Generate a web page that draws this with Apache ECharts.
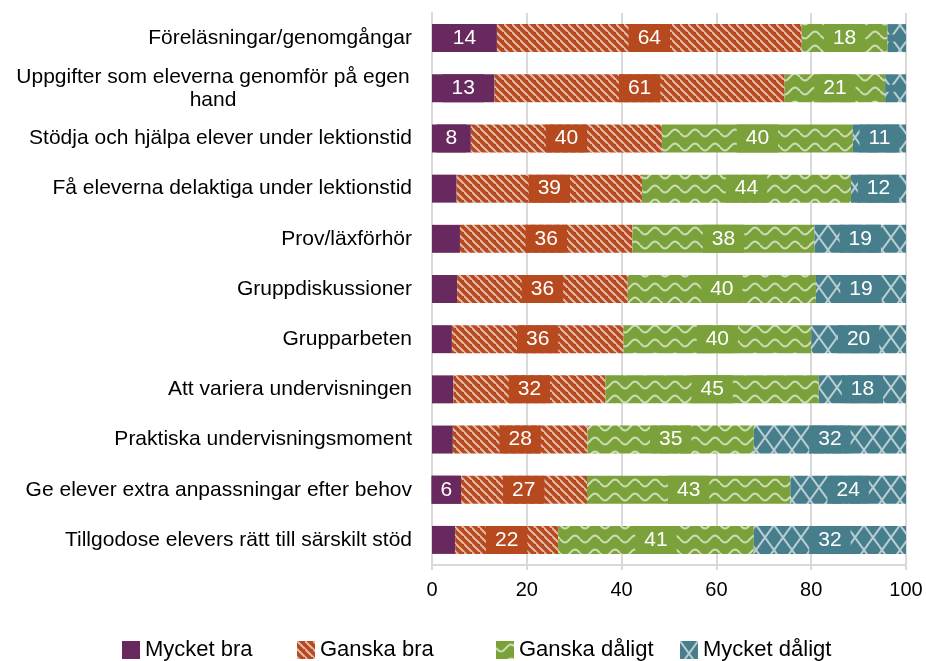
<!DOCTYPE html>
<html>
<head>
<meta charset="utf-8">
<script src="https://cdn.jsdelivr.net/npm/echarts@6/dist/echarts.min.js"></script>
<style>
html, body { margin: 0; padding: 0; background: #fff; }
#chart { width: 926px; height: 661px; }
</style>
</head>
<body>
<div id="chart"></div>
<script>
// categories, top to bottom
const categories = [
  'Föreläsningar/genomgångar',
  'Uppgifter som eleverna genomför på egen\nhand',
  'Stödja och hjälpa elever under lektionstid',
  'Få eleverna delaktiga under lektionstid',
  'Prov/läxförhör',
  'Gruppdiskussioner',
  'Grupparbeten',
  'Att variera undervisningen',
  'Praktiska undervisningsmoment',
  'Ge elever extra anpassningar efter behov',
  'Tillgodose elevers rätt till särskilt stöd'
]
const seriesNames = ['Mycket bra', 'Ganska bra', 'Ganska dåligt', 'Mycket dåligt']

// percent values
const mycketBra = [13.7, 13.2, 8.2, 5.2, 5.9, 5.3, 4.2, 4.5, 4.4, 6.0, 4.9]
const ganskaBra = [64.3, 61.2, 40.3, 39.1, 36.4, 36.0, 36.2, 32.1, 28.4, 26.7, 21.7]
const ganskaDaligt = [18.1, 21.2, 40.3, 44.1, 38.4, 39.7, 39.6, 45.0, 35.1, 42.9, 41.3]
const mycketDaligt = [3.9, 4.4, 11.2, 11.6, 19.3, 19.0, 20.0, 18.4, 32.1, 24.4, 32.1]

const xTicks = [0, 20, 40, 60, 80, 100]

const colors = ['#682A5E', '#B64A1E', '#7BA23A', '#477E8C']
const legendLeft = [117, 292, 491, 675]

function tile(w, h, bg, draw) {
  const c = document.createElement('canvas')
  c.width = w
  c.height = h
  const ctx = c.getContext('2d')
  ctx.fillStyle = bg
  ctx.fillRect(0, 0, w, h)
  ctx.strokeStyle = 'rgba(255,255,255,0.62)'
  ctx.lineWidth = 2
  draw(ctx, w, h)
  return c
}

// diagonal stripes
const stripes = tile(8, 8, colors[1], (ctx, w, h) => {
  ctx.beginPath()
  ctx.moveTo(-1, -1); ctx.lineTo(w + 1, h + 1)
  ctx.moveTo(-w - 1, -1); ctx.lineTo(1, h + 1)
  ctx.moveTo(w - 1, -h - 1); ctx.lineTo(2 * w + 1, h + 1)
  ctx.stroke()
})
// waves
const waves = tile(20, 14, colors[2], (ctx, w, h) => {
  ctx.beginPath()
  for (let x = 0; x <= w; x++) {
    const y = h / 2 + 3.5 * Math.sin(x / w * Math.PI * 2)
    if (x === 0) ctx.moveTo(x, y); else ctx.lineTo(x, y)
  }
  ctx.stroke()
})
// lattice
const lattice = tile(18, 25, colors[3], (ctx, w, h) => {
  ctx.beginPath()
  ctx.moveTo(0, 0); ctx.lineTo(w, h)
  ctx.moveTo(w, 0); ctx.lineTo(0, h)
  ctx.stroke()
})

const fills = [
  colors[0],
  { image: stripes, repeat: 'repeat' },
  { image: waves, repeat: 'repeat' },
  { image: lattice, repeat: 'repeat' }
]
const values = [mycketBra, ganskaBra, ganskaDaligt, mycketDaligt]

const chart = echarts.init(document.getElementById('chart'))
const option = {
  animation: false,
  grid: { left: 432, right: 20, top: 13, bottom: 96 },
  legend: seriesNames.map((name, i) => ({
    data: [name],
    left: legendLeft[i],
    top: 634,
    itemWidth: 18,
    itemHeight: 18,
    itemGap: 5,
    icon: 'rect',
    textStyle: { fontFamily: 'Liberation Sans', fontSize: 22, color: '#000' }
  })),
  xAxis: {
    type: 'value',
    min: 0,
    max: 100,
    interval: 20,
    axisLine: { show: true, lineStyle: { color: '#D9D9D9', width: 2 } },
    axisTick: { show: true, length: 5, lineStyle: { color: '#D9D9D9', width: 2 } },
    splitLine: { show: true, lineStyle: { color: '#D9D9D9', width: 2 } },
    axisLabel: {
      fontFamily: 'Liberation Sans', fontSize: 20, color: '#000', margin: 15,
      formatter: v => xTicks.includes(v) ? String(v) : ''
    }
  },
  yAxis: {
    type: 'category',
    inverse: true,
    data: categories,
    axisLine: { show: true, lineStyle: { color: '#D9D9D9', width: 2 } },
    axisTick: { show: false },
    axisLabel: {
      fontFamily: 'Liberation Sans', fontSize: 21, color: '#000', margin: 20,
      lineHeight: 24,
      formatter: v => v.includes('\n')
        ? v.split('\n').map(s => '{c|' + s + '}').join('\n')
        : v,
      rich: {
        c: { fontFamily: 'Liberation Sans', fontSize: 21, color: '#000', lineHeight: 23, width: 398, align: 'center' }
      }
    }
  },
  series: seriesNames.map((name, i) => ({
    name: name,
    type: 'bar',
    stack: 'total',
    barWidth: 28,
    data: values[i],
    itemStyle: { color: fills[i] },
    label: {
      show: true,
      position: 'inside',
      color: '#fff',
      fontFamily: 'Liberation Sans',
      fontSize: 21,
      backgroundColor: colors[i],
      padding: [4, 9, 3, 9],
      formatter: p => p.value >= 5.95 ? String(Math.round(p.value)) : ''
    }
  }))
}
chart.setOption(option)
</script>
</body>
</html>
